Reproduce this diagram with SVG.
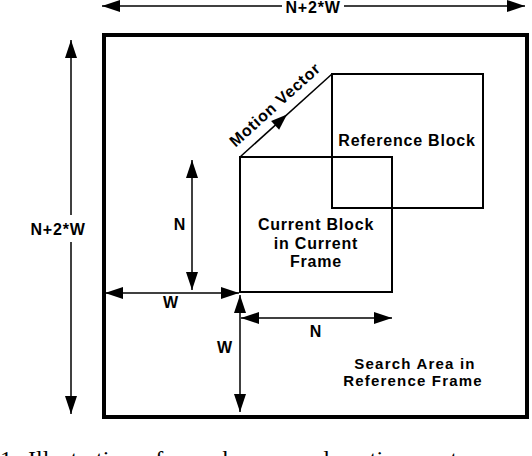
<svg xmlns="http://www.w3.org/2000/svg" width="532" height="456" viewBox="0 0 532 456">
<style>
.t{font-family:"Liberation Sans",Arial,sans-serif;font-weight:bold;font-size:16px;letter-spacing:0.8px;fill:#000;text-anchor:middle}
.s{font-size:15px;letter-spacing:1.2px}
.ln{stroke:#000;stroke-width:1.5;fill:none}
.box{stroke:#000;stroke-width:2;fill:none}
.da{stroke:#000;stroke-width:1.5;fill:none;marker-start:url(#ah);marker-end:url(#ah)}
.cap{font-family:"Liberation Serif","Times New Roman",serif;font-size:24px;word-spacing:4px;fill:#000}
</style>
<defs>
<marker id="ah" markerUnits="userSpaceOnUse" markerWidth="18" markerHeight="12" refX="18" refY="6" orient="auto-start-reverse">
<path d="M0,0 L18,6 L0,12 z" fill="#000"/>
</marker>
</defs>
<rect width="532" height="456" fill="#fff"/>
<g id="search-area">
<rect x="104" y="35" width="423" height="382" fill="none" stroke="#000" stroke-width="4"/>
<text class="t s" x="415" y="369">Search Area in</text>
<text class="t s" x="413" y="386">Reference Frame</text>
</g>
<g id="reference-block">
<rect class="box" x="332" y="74" width="151" height="134"/>
<text class="t" x="407" y="146">Reference Block</text>
</g>
<g id="current-block">
<rect class="box" x="240" y="157" width="152" height="135"/>
<text class="t" x="316" y="230">Current Block</text>
<text class="t" x="316" y="248.5">in Current</text>
<text class="t" x="316" y="267">Frame</text>
</g>
<g id="connectors">
<line class="da" x1="102" y1="6" x2="525" y2="6"/>
<rect x="282" y="0" width="62" height="14" fill="#fff"/>
<line class="ln" x1="71" y1="40" x2="71" y2="215"/>
<line class="ln" x1="71" y1="242" x2="71" y2="414"/>
<path d="M71,40 L77,58 L65,58 z M71,414 L77,396 L65,396 z" fill="#000"/>
<line class="da" x1="192" y1="160" x2="192" y2="290"/>
<line class="da" x1="105" y1="293" x2="239" y2="293"/>
<line class="da" x1="240" y1="295" x2="240" y2="412"/>
<line class="da" x1="241" y1="318" x2="392" y2="318"/>
<line class="ln" x1="240" y1="157" x2="332" y2="74"/>
<polygon points="287,114.6 279.1,129.8 271.1,120.9" fill="#000"/>
</g>
<g id="labels">
<text class="t" x="313" y="12.5">N+2*W</text>
<text class="t" x="58" y="235">N+2*W</text>
<text class="t" x="180" y="230">N</text>
<text class="t" x="171" y="308">W</text>
<text class="t" x="225" y="353">W</text>
<text class="t" x="316" y="337">N</text>
<text class="t" transform="translate(278.6,108.8) rotate(-42.06)" x="0" y="0">Motion Vector</text>
</g>
<text class="cap" x="0" y="467">1. Illustration of search area and motion vector</text>
</svg>
